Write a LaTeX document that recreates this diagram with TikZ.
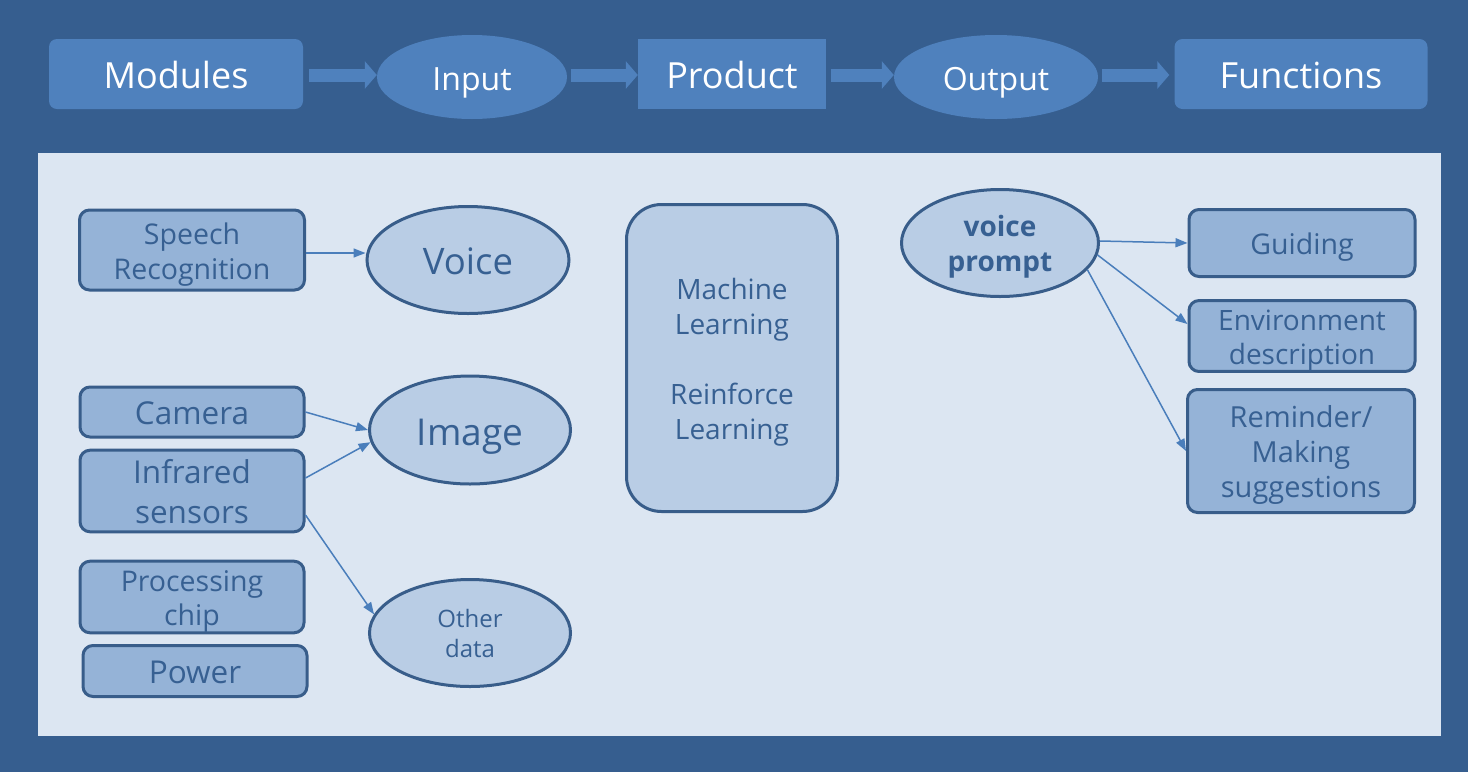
\documentclass[tikz,border=0pt]{standalone}
\usepackage{fontspec}
\setmainfont{Open Sans}
\usetikzlibrary{shapes.geometric,arrows.meta}
\definecolor{bgdark}{HTML}{365E8F}
\definecolor{panel}{HTML}{DCE6F2}
\definecolor{hdrfill}{HTML}{4F81BD}
\definecolor{boxfill}{HTML}{95B3D7}
\definecolor{ellfill}{HTML}{B9CDE5}
\definecolor{edge}{HTML}{385D8A}
\definecolor{txt}{HTML}{376092}
\definecolor{link}{HTML}{4A7EBB}
\newcommand{\fs}[2]{\fontsize{#1}{#2}\selectfont}
% fixed top and bottom of each text, whatever its letters
\newcommand{\topstrut}{\rule{0pt}{1.07\fontdimen6\font}}
\newcommand{\botstrut}{\rule[-0.25\fontdimen6\font]{0pt}{0pt}}
\tikzset{
  struts/.style={execute at begin node=\topstrut, execute at end node=\botstrut},
  hdrbox/.style={struts, fill=hdrfill, text=white, inner sep=0pt, rounded corners=8pt},
  hdrell/.style={struts, ellipse, fill=hdrfill, text=white, inner sep=0pt},
  modbox/.style={struts, draw=edge, line width=3pt, fill=boxfill, text=txt, align=center,
    inner sep=0pt, rounded corners=10pt},
  inell/.style={struts, ellipse, draw=edge, line width=3pt, fill=ellfill, text=txt,
    align=center, inner sep=0pt},
  flow/.style={draw=hdrfill, line width=13pt, -{Triangle[width=27pt,length=12pt]}},
  linkarrow/.style={draw=link, line width=1.5pt, -{Triangle[width=9pt,length=12pt]}}
}
\begin{document}
\begin{tikzpicture}[x=1pt, y=-1pt]
   \useasboundingbox (0,0) rectangle (1468,772);
   \fill[bgdark] (0,0) rectangle (1468,772);
   \fill[panel] (38,153) rectangle (1441,736);
   % header row
   \node[hdrbox, font=\fs{36}{44}, minimum width=254pt, minimum height=70pt] (modules) at (176,74) {Modules};
   \node[hdrell, font=\fs{32}{38}, minimum width=190pt, minimum height=84pt] (input) at (472,77) {Input};
   \node[hdrbox, font=\fs{36}{44}, rounded corners=0pt, minimum width=188pt, minimum height=70pt] (product) at (732,74) {Product};
   \node[hdrell, font=\fs{32}{38}, minimum width=204pt, minimum height=84pt] (output) at (996,77) {Output};
   \node[hdrbox, font=\fs{36}{44}, minimum width=253pt, minimum height=70pt] (functions) at (1301,74) {Functions};
   \draw[flow, shorten <=6pt] ([yshift=-1pt]modules.east) -- ([yshift=2pt]input.west);
   \draw[flow, shorten <=4pt] ([yshift=2pt]input.east) -- ([yshift=-1pt]product.west);
   \draw[flow, shorten <=5pt] ([yshift=-1pt]product.east) -- ([yshift=2pt]output.west);
   \draw[flow, shorten <=4pt, shorten >=5pt] ([yshift=2pt]output.east) -- ([yshift=-1pt]functions.west);
   % modules
   \node[modbox, font=\fs{28.5}{35}, minimum width=225pt, minimum height=80pt] (speech) at (192,250) {\topstrut Speech\\Recognition\botstrut};
   \node[modbox, font=\fs{31.5}{38}, minimum width=224pt, minimum height=50pt] (camera) at (192,412) {Camera};
   \node[modbox, font=\fs{31.5}{40}, minimum width=224pt, minimum height=79pt] (infrared) at (192,491) {\topstrut Infrared\\sensors\botstrut};
   \node[modbox, font=\fs{28.5}{34}, minimum width=224pt, minimum height=69pt] (chip) at (192,597) {\topstrut Processing\\chip\botstrut};
   \node[modbox, font=\fs{31.5}{38}, minimum width=224pt, minimum height=51pt] (power) at (195,671) {Power};
   % inputs
   \node[inell, font=\fs{36.5}{44}, minimum width=202pt, minimum height=107pt] (voice) at (468,260) {Voice};
   \node[inell, font=\fs{37}{44}, minimum width=201pt, minimum height=108pt] (image) at (470,430) {Image};
   \node[inell, font=\fs{24}{30}, minimum width=201pt, minimum height=107pt] (other) at (470,633) {\topstrut Other\\data\botstrut};
   % product
   \node[modbox, font=\fs{28}{35}, fill=ellfill, rounded corners=35pt, minimum width=211pt, minimum height=307pt] (learning) at (732,358)
      {\topstrut Machine\\Learning\\[35pt]Reinforce\\Learning\botstrut};
   % outputs and functions
   \node[inell, font=\fs{28}{35}\bfseries, minimum width=197pt, minimum height=107pt] (prompt) at (1000,243) {\topstrut voice\\prompt\botstrut};
   \node[modbox, font=\fs{28.5}{35}, minimum width=226pt, minimum height=67pt] (guiding) at (1302,243) {Guiding};
   \node[modbox, font=\fs{28}{34}, minimum width=226pt, minimum height=68pt] (environment) at (1302,336) {\topstrut Environment\\description\botstrut};
   \node[modbox, font=\fs{29}{35}, minimum width=227pt, minimum height=123pt] (reminder) at (1301,451) {\topstrut Reminder/\\Making\\suggestions\botstrut};
   % links
   \draw[linkarrow] ([yshift=-3pt]speech.east) -- ([yshift=7pt]voice.west);
   \draw[linkarrow] (camera.east) -- (image.west);
   \draw[linkarrow] ([yshift=13pt]infrared.east) -- (image.187);
   \draw[linkarrow] ([yshift=-24pt]infrared.east) -- (other.169);
   \draw[linkarrow] ([yshift=2pt]prompt.east) -- (guiding.west);
   \draw[linkarrow] (prompt.-7) -- ([yshift=12pt]environment.west);
   \draw[linkarrow] (prompt.-17) -- (reminder.west);
\end{tikzpicture}
\end{document}
